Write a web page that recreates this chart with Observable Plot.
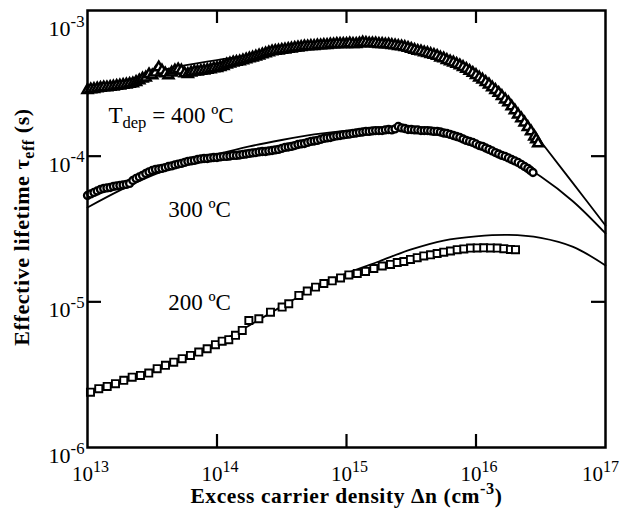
<!DOCTYPE html>
<html>
<head>
<meta charset="utf-8">
<script src="https://cdn.jsdelivr.net/npm/d3@7"></script>
<script src="https://cdn.jsdelivr.net/npm/@observablehq/plot@0.6"></script>
<style>
  html, body { margin: 0; padding: 0; background: #fff; }
  #chart { width: 621px; height: 516px; }
</style>
</head>
<body>
<div id="chart"></div>
<script>
// ---- Data (log10 values) ----
// T_dep = 400 °C (triangles)
const logDn400 = [13.00,13.05,13.10,13.15,13.20,13.25,13.30,13.35,13.40,13.45,13.50,13.55,13.60,13.65,13.70,13.75,13.80,13.85,13.90,13.95,14.00,14.05,14.10,14.15,14.20,14.25,14.30,14.35,14.40,14.45,14.50,14.55,14.60,14.65,14.70,14.75,14.80,14.85,14.90,14.95,15.00,15.05,15.10,15.15,15.20,15.25,15.30,15.35,15.40,15.45,15.50,15.55,15.60,15.65,15.70,15.75,15.80,15.85,15.90,15.95,16.00,16.05,16.10,16.15,16.20,16.25,16.30,16.35,16.40,16.45,16.48];
const logTau400 = [-3.546,-3.539,-3.532,-3.528,-3.522,-3.515,-3.508,-3.501,-3.480,-3.460,-3.446,-3.391,-3.432,-3.426,-3.405,-3.432,-3.426,-3.419,-3.412,-3.405,-3.395,-3.381,-3.364,-3.353,-3.343,-3.329,-3.316,-3.302,-3.288,-3.278,-3.271,-3.264,-3.257,-3.251,-3.247,-3.244,-3.240,-3.237,-3.233,-3.230,-3.230,-3.230,-3.226,-3.223,-3.226,-3.230,-3.233,-3.237,-3.244,-3.251,-3.264,-3.278,-3.288,-3.299,-3.312,-3.329,-3.350,-3.367,-3.388,-3.415,-3.443,-3.474,-3.508,-3.546,-3.587,-3.631,-3.686,-3.741,-3.800,-3.865,-3.913];
const logDn400b = [13.025,13.075,13.125,13.175,13.225,13.275,13.325,13.375,13.425,13.475,13.525,13.575,13.625,13.675,13.725,13.775,13.825,13.875,13.925,13.975,14.025,14.075,14.125,14.175,14.225,14.275,14.325,14.375,14.425,14.475,14.525,14.575,14.625,14.675,14.725,14.775,14.825,14.875,14.925,14.975,15.025,15.075,15.125,15.175,15.225,15.275,15.325,15.375,15.425,15.475,15.525,15.575,15.625,15.675,15.725,15.775,15.825,15.875,15.925,15.975,16.025,16.075,16.125,16.175,16.225,16.275,16.325,16.375,16.425,16.465];
const logTau400b = [-3.542,-3.535,-3.528,-3.525,-3.518,-3.511,-3.504,-3.491,-3.467,-3.439,-3.426,-3.412,-3.446,-3.412,-3.412,-3.436,-3.419,-3.415,-3.408,-3.398,-3.388,-3.371,-3.357,-3.350,-3.336,-3.323,-3.309,-3.295,-3.281,-3.275,-3.268,-3.261,-3.254,-3.247,-3.244,-3.240,-3.237,-3.233,-3.230,-3.230,-3.226,-3.230,-3.220,-3.226,-3.226,-3.230,-3.233,-3.240,-3.247,-3.257,-3.271,-3.281,-3.292,-3.305,-3.323,-3.340,-3.357,-3.377,-3.401,-3.429,-3.460,-3.491,-3.528,-3.566,-3.611,-3.659,-3.714,-3.769,-3.830,-3.885];

// 300 °C (circles)
const logDn300 = [13.00,13.05,13.10,13.15,13.20,13.25,13.30,13.35,13.40,13.45,13.50,13.55,13.60,13.65,13.70,13.75,13.80,13.85,13.90,13.95,14.00,14.05,14.10,14.15,14.20,14.25,14.30,14.35,14.40,14.45,14.50,14.55,14.60,14.65,14.70,14.75,14.80,14.85,14.90,14.95,15.00,15.05,15.10,15.15,15.20,15.25,15.30,15.35,15.40,15.45,15.50,15.55,15.60,15.65,15.70,15.75,15.80,15.85,15.90,15.95,16.00,16.05,16.10,16.15,16.20,16.25,16.30,16.35,16.40,16.44];
const logTau300 = [-4.270,-4.249,-4.229,-4.218,-4.208,-4.201,-4.194,-4.167,-4.143,-4.119,-4.098,-4.088,-4.078,-4.067,-4.054,-4.043,-4.033,-4.023,-4.016,-4.012,-4.009,-4.002,-3.999,-3.995,-3.988,-3.981,-3.975,-3.968,-3.964,-3.957,-3.947,-3.937,-3.927,-3.916,-3.906,-3.896,-3.885,-3.875,-3.865,-3.858,-3.851,-3.844,-3.837,-3.830,-3.827,-3.824,-3.820,-3.820,-3.796,-3.810,-3.817,-3.820,-3.824,-3.827,-3.830,-3.841,-3.851,-3.865,-3.882,-3.899,-3.916,-3.933,-3.954,-3.975,-3.995,-4.012,-4.033,-4.057,-4.084,-4.112];
const logDn300b = [13.025,13.075,13.125,13.175,13.225,13.275,13.325,13.375,13.425,13.475,13.525,13.575,13.625,13.675,13.725,13.775,13.825,13.875,13.925,13.975,14.025,14.075,14.125,14.175,14.225,14.275,14.325,14.375,14.425,14.475,14.525,14.575,14.625,14.675,14.725,14.775,14.825,14.875,14.925,14.975,15.025,15.075,15.125,15.175,15.225,15.275,15.325,15.375,15.425,15.475,15.525,15.575,15.625,15.675,15.725,15.775,15.825,15.875,15.925,15.975,16.025,16.075,16.125,16.175,16.225,16.275,16.325,16.375,16.42];
const logTau300b = [-4.259,-4.239,-4.222,-4.215,-4.204,-4.198,-4.187,-4.153,-4.132,-4.108,-4.091,-4.084,-4.071,-4.060,-4.050,-4.036,-4.029,-4.019,-4.016,-4.009,-4.005,-4.002,-3.995,-3.992,-3.985,-3.978,-3.971,-3.968,-3.961,-3.954,-3.940,-3.933,-3.920,-3.913,-3.899,-3.892,-3.878,-3.872,-3.861,-3.854,-3.848,-3.841,-3.834,-3.830,-3.824,-3.824,-3.817,-3.813,-3.806,-3.817,-3.820,-3.824,-3.824,-3.830,-3.834,-3.844,-3.858,-3.872,-3.892,-3.906,-3.927,-3.944,-3.964,-3.985,-4.002,-4.023,-4.043,-4.071,-4.098];

// 200 °C (squares)
const logDn200 = [13.023,13.087,13.152,13.216,13.280,13.345,13.409,13.473,13.538,13.602,13.666,13.731,13.795,13.859,13.924,13.988,14.040,14.091,14.143,14.195,14.246,14.323,14.413,14.503,14.554,14.632,14.697,14.761,14.825,14.890,14.954,15.018,15.083,15.147,15.211,15.276,15.340,15.392,15.443,15.494,15.546,15.597,15.649,15.700,15.751,15.803,15.855,15.906,15.958,16.009,16.060,16.112,16.164,16.215,16.266,16.305];
const logTau200 = [-5.620,-5.596,-5.581,-5.562,-5.539,-5.517,-5.505,-5.489,-5.459,-5.436,-5.414,-5.390,-5.368,-5.345,-5.322,-5.294,-5.270,-5.260,-5.230,-5.196,-5.128,-5.116,-5.071,-5.036,-5.013,-4.956,-4.926,-4.899,-4.874,-4.856,-4.836,-4.815,-4.805,-4.791,-4.771,-4.754,-4.743,-4.730,-4.723,-4.709,-4.697,-4.685,-4.677,-4.668,-4.659,-4.651,-4.642,-4.637,-4.631,-4.630,-4.629,-4.630,-4.631,-4.635,-4.640,-4.642];

// Fitted curves (solid lines)
const logDnFit = [13.00,13.25,13.50,13.75,14.00,14.25,14.50,14.75,15.00,15.25,15.50,15.75,16.00,16.25,16.50,16.75,17.00];
const logFit400 = [-3.570,-3.494,-3.426,-3.377,-3.340,-3.309,-3.278,-3.251,-3.233,-3.230,-3.257,-3.323,-3.432,-3.618,-3.899,-4.187,-4.476];
const logFit300 = [-4.352,-4.235,-4.132,-4.050,-3.988,-3.933,-3.889,-3.851,-3.824,-3.810,-3.810,-3.830,-3.906,-4.009,-4.139,-4.311,-4.530];
const logFit200 = [-5.629,-5.553,-5.478,-5.385,-5.285,-5.162,-5.031,-4.908,-4.805,-4.723,-4.640,-4.579,-4.551,-4.541,-4.561,-4.623,-4.750];

// Axis ticks and labels
const xTicks = [1e13, 1e14, 1e15, 1e16, 1e17];
const yTicks = [1e-6, 1e-5, 1e-4, 1e-3];
const xInnerTicks = [1e14, 1e15, 1e16];
const yInnerTicks = [1e-5, 1e-4];
const xTitle = "Excess carrier density Δn (cm^{-3})";
const yTitle = "Effective lifetime τ_{eff} (s)";

// In-plot annotations
const noteText = ["T_{dep} = 400 ºC", "300 ºC", "200 ºC"];
const noteDn = [1.45e13, 4.2e13, 4.2e13];
const noteTau = [1.9e-4, 4.3e-5, 9.8e-6];

// ---- Build tables ----
const pts = (lx, ly) => lx.map((v, i) => ({dn: 10 ** v, tau: 10 ** ly[i]}));
const d400 = pts(logDn400, logTau400).concat(pts(logDn400b, logTau400b)).sort((a, b) => a.dn - b.dn);
const d300 = pts(logDn300, logTau300).concat(pts(logDn300b, logTau300b)).sort((a, b) => a.dn - b.dn);
const d200 = pts(logDn200, logTau200);
const f400 = pts(logDnFit, logFit400);
const f300 = pts(logDnFit, logFit300);
const f200 = pts(logDnFit, logFit200);
const notes = noteText.map((t, i) => ({text: t, dn: noteDn[i], tau: noteTau[i]}));

const W = 621, H = 516, ML = 87, MR = 16, MT = 10, MB = 69;
const PW = W - ML - MR, PH = H - MT - MB;
const fmt = d => `10^{${Math.round(Math.log10(d))}}`;

const lineOpts = {x: "dn", y: "tau", stroke: "black", strokeWidth: 1.8, curve: "catmull-rom"};
const dotOpts = {x: "dn", y: "tau", stroke: "black", fill: "white"};

const chart = Plot.plot({
  width: W, height: H,
  marginLeft: ML, marginRight: MR, marginTop: MT, marginBottom: MB,
  style: {fontFamily: "'Liberation Serif', 'Times New Roman', serif", fontSize: "22px", background: "white", color: "black"},
  x: {type: "log", domain: [1e13, 1e17], axis: null},
  y: {type: "log", domain: [1e-6, 1e-3], axis: null},
  marks: [
    Plot.line(f400, lineOpts),
    Plot.line(f300, lineOpts),
    Plot.line(f200, lineOpts),
    Plot.dot(d200, {...dotOpts, symbol: "square", r: 4, strokeWidth: 1.9}),
    Plot.dot(d300, {...dotOpts, symbol: "circle", r: 3.5, strokeWidth: 2.3}),
    Plot.dot(d400, {...dotOpts, symbol: "triangle", r: 3.7, strokeWidth: 2.5}),
    Plot.frame({stroke: "black", strokeWidth: 2.5}),
    Plot.tickX(xInnerTicks, {x: d => d, insetTop: PH - 13, strokeWidth: 2.2}),
    Plot.tickX(xInnerTicks, {x: d => d, insetBottom: PH - 13, strokeWidth: 2.2}),
    Plot.tickY(yInnerTicks, {y: d => d, insetRight: PW - 14, strokeWidth: 2.2}),
    Plot.tickY(yInnerTicks, {y: d => d, insetLeft: PW - 14, strokeWidth: 2.2}),
    // tick labels (through the x / y scales)
    Plot.text(xTicks, {x: d => d, text: fmt, frameAnchor: "bottom", textAnchor: "middle", lineAnchor: "middle", dy: 26.3, dx: 3, fontSize: 21, ariaLabel: "x-axis tick label"}),
    Plot.text(yTicks, {y: d => d, text: fmt, frameAnchor: "left", textAnchor: "end", lineAnchor: "middle", dx: -3, dy: 8.3, fontSize: 22, ariaLabel: "y-axis tick label"}),
    // annotations
    Plot.text(notes, {x: "dn", y: "tau", text: "text", textAnchor: "start", lineAnchor: "middle", fontSize: 23}),
    // axis titles
    Plot.text([xTitle], {text: d => d, frameAnchor: "bottom", textAnchor: "middle", lineAnchor: "middle", dy: 49, fontWeight: "bold", fontSize: 21.5, ariaLabel: "x-axis label"}),
    Plot.text([yTitle], {text: d => d, frameAnchor: "left", textAnchor: "middle", lineAnchor: "middle", rotate: -90, dx: -65.7, dy: -2, fontWeight: "bold", fontSize: 22, ariaLabel: "y-axis label"})
  ]
});

document.getElementById("chart").appendChild(chart);

// ---- Superscripts / subscripts as real tspans ----
const NS = "http://www.w3.org/2000/svg";
function richify(el) {
  const s = el.textContent;
  if (!/[\^_]\{/.test(s)) return;
  const fs = parseFloat(getComputedStyle(el).fontSize) || 22;
  el.textContent = "";
  const re = /([\^_])\{([^}]*)\}/g;
  let last = 0, m, shift = 0;
  const add = (txt, kind) => {
    const t = document.createElementNS(NS, "tspan");
    let target = 0;
    if (kind === "^") { target = -0.42 * fs; t.setAttribute("font-size", (0.76 * fs).toFixed(1)); }
    else if (kind === "_") { target = 0.24 * fs; t.setAttribute("font-size", (0.72 * fs).toFixed(1)); }
    if (target !== shift) t.setAttribute("dy", (target - shift).toFixed(2));
    shift = target;
    t.textContent = txt;
    el.appendChild(t);
  };
  while ((m = re.exec(s))) {
    if (m.index > last) add(s.slice(last, m.index), "");
    add(m[2], m[1]);
    last = re.lastIndex;
  }
  if (last < s.length) add(s.slice(last), "");
  const nudge = (dx, dy) => el.setAttribute("transform", ((el.getAttribute("transform") || "") + ` translate(${dx},${dy})`).trim());
  if (s === "10^{-3}") nudge(0, 10);
  if (s === "10^{17}") nudge(-8, 0);
  if (s === xTitle || s === yTitle) el.setAttribute("letter-spacing", "0.6");
}
chart.querySelectorAll("text").forEach(richify);
</script>
</body>
</html>
